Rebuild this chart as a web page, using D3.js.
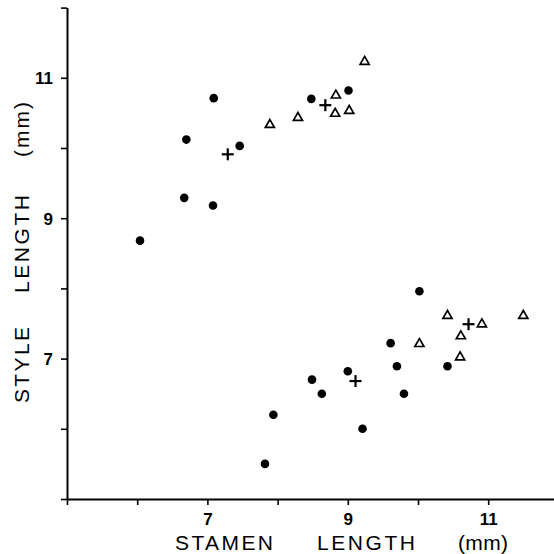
<!DOCTYPE html>
<html><head><meta charset="utf-8">
<script src="https://cdn.jsdelivr.net/npm/d3@7"></script>
<style>html,body{margin:0;padding:0;background:#fff;}svg{display:block;}</style>
</head><body>
<svg id="c" width="554" height="554"></svg>
<script>
// Filled circles: [stamen, style]
const circles = [
  [7.09,10.71],[6.70,10.12],[7.46,10.03],[6.67,9.29],[7.08,9.18],[6.04,8.68],
  [8.48,10.70],[9.01,10.82],
  [7.94,6.20],[7.82,5.50],[10.02,7.96],[9.61,7.22],[9.70,6.89],[10.42,6.89],
  [9.00,6.82],[8.49,6.70],[8.63,6.50],[9.80,6.50],[9.21,6.00]
];
// Open triangles
const triangles = [
  [7.89,10.33],[8.29,10.43],[8.83,10.75],[8.82,10.49],[9.02,10.53],[9.24,11.23],
  [10.42,7.61],[11.50,7.61],[10.91,7.49],[10.61,7.32],[10.02,7.21],[10.60,7.02]
];
// Means (crosses)
const means = [[7.29,9.91],[8.68,10.61],[10.72,7.49],[9.11,6.68]];
const xTicks = [5,6,7,8,9,10,11];
const yTicks = [5,6,7,8,9,10,11,12];
const labeledTicks = [7,9,11];

const svg = d3.select("#c");
const x = d3.scaleLinear().domain([5,12]).range([67,558.4]);
const y = d3.scaleLinear().domain([5,12]).range([499,7.6]);
const font = "'Liberation Sans', Arial, sans-serif";

const fmt = d => labeledTicks.includes(d) ? String(d) : "";

const gx = svg.append("g").attr("transform","translate(0,499)")
  .call(d3.axisBottom(x).tickValues(xTicks).tickSize(6).tickSizeOuter(0).tickFormat(fmt));
gx.selectAll("text").attr("y",26).attr("dy",0).style("font-family",font).style("font-size","17px").style("font-weight","bold").attr("fill","#000");

const gy = svg.append("g").attr("transform","translate(67,0)")
  .call(d3.axisLeft(y).tickValues(yTicks).tickSize(6).tickSizeOuter(0).tickFormat(fmt));
gy.selectAll("text").attr("x",-14).attr("dy","0.36em").style("font-family",font).style("font-size","17px").style("font-weight","bold").attr("fill","#000");

[gx,gy].forEach(g=>{
  g.select(".domain").attr("stroke","#000").attr("stroke-width",2);
  g.selectAll(".tick line").attr("stroke","#000").attr("stroke-width",1.6);
});

// Circles
svg.append("g").selectAll("circle").data(circles).join("circle")
  .attr("cx",d=>x(d[0])).attr("cy",d=>y(d[1])).attr("r",4.3).attr("fill","#000");

// Triangles
const tri = d3.symbol().type(d3.symbolTriangle).size(36);
svg.append("g").selectAll("path").data(triangles).join("path")
  .attr("d",tri).attr("transform",d=>`translate(${x(d[0])},${y(d[1])})`)
  .attr("fill","none").attr("stroke","#000").attr("stroke-width",1.7);

// Crosses
const cross = svg.append("g");
means.forEach(d=>{
  const cx=x(d[0]), cy=y(d[1]);
  cross.append("line").attr("x1",cx-6).attr("x2",cx+6).attr("y1",cy).attr("y2",cy).attr("stroke","#000").attr("stroke-width",2.2);
  cross.append("line").attr("x1",cx).attr("x2",cx).attr("y1",cy-6).attr("y2",cy+6).attr("stroke","#000").attr("stroke-width",2.2);
});

// X title
const xt = [["STAMEN",175,98],["LENGTH",317,98],["(mm)",458,50]];
xt.forEach(([t,x0,w])=>{
  svg.append("text").attr("x",x0).attr("y",550).attr("textLength",w).attr("lengthAdjust","spacing")
    .style("font-family",font).style("font-size","21px").attr("fill","#000").text(t);
});
// Y title (rotated)
const yt = [["STYLE",403,76],["LENGTH",293,98],["(mm)",157,55]];
yt.forEach(([t,y0,w])=>{
  svg.append("text").attr("transform",`translate(29,${y0}) rotate(-90)`).attr("textLength",w).attr("lengthAdjust","spacing")
    .style("font-family",font).style("font-size","21px").attr("fill","#000").text(t);
});
</script>
</body></html>
